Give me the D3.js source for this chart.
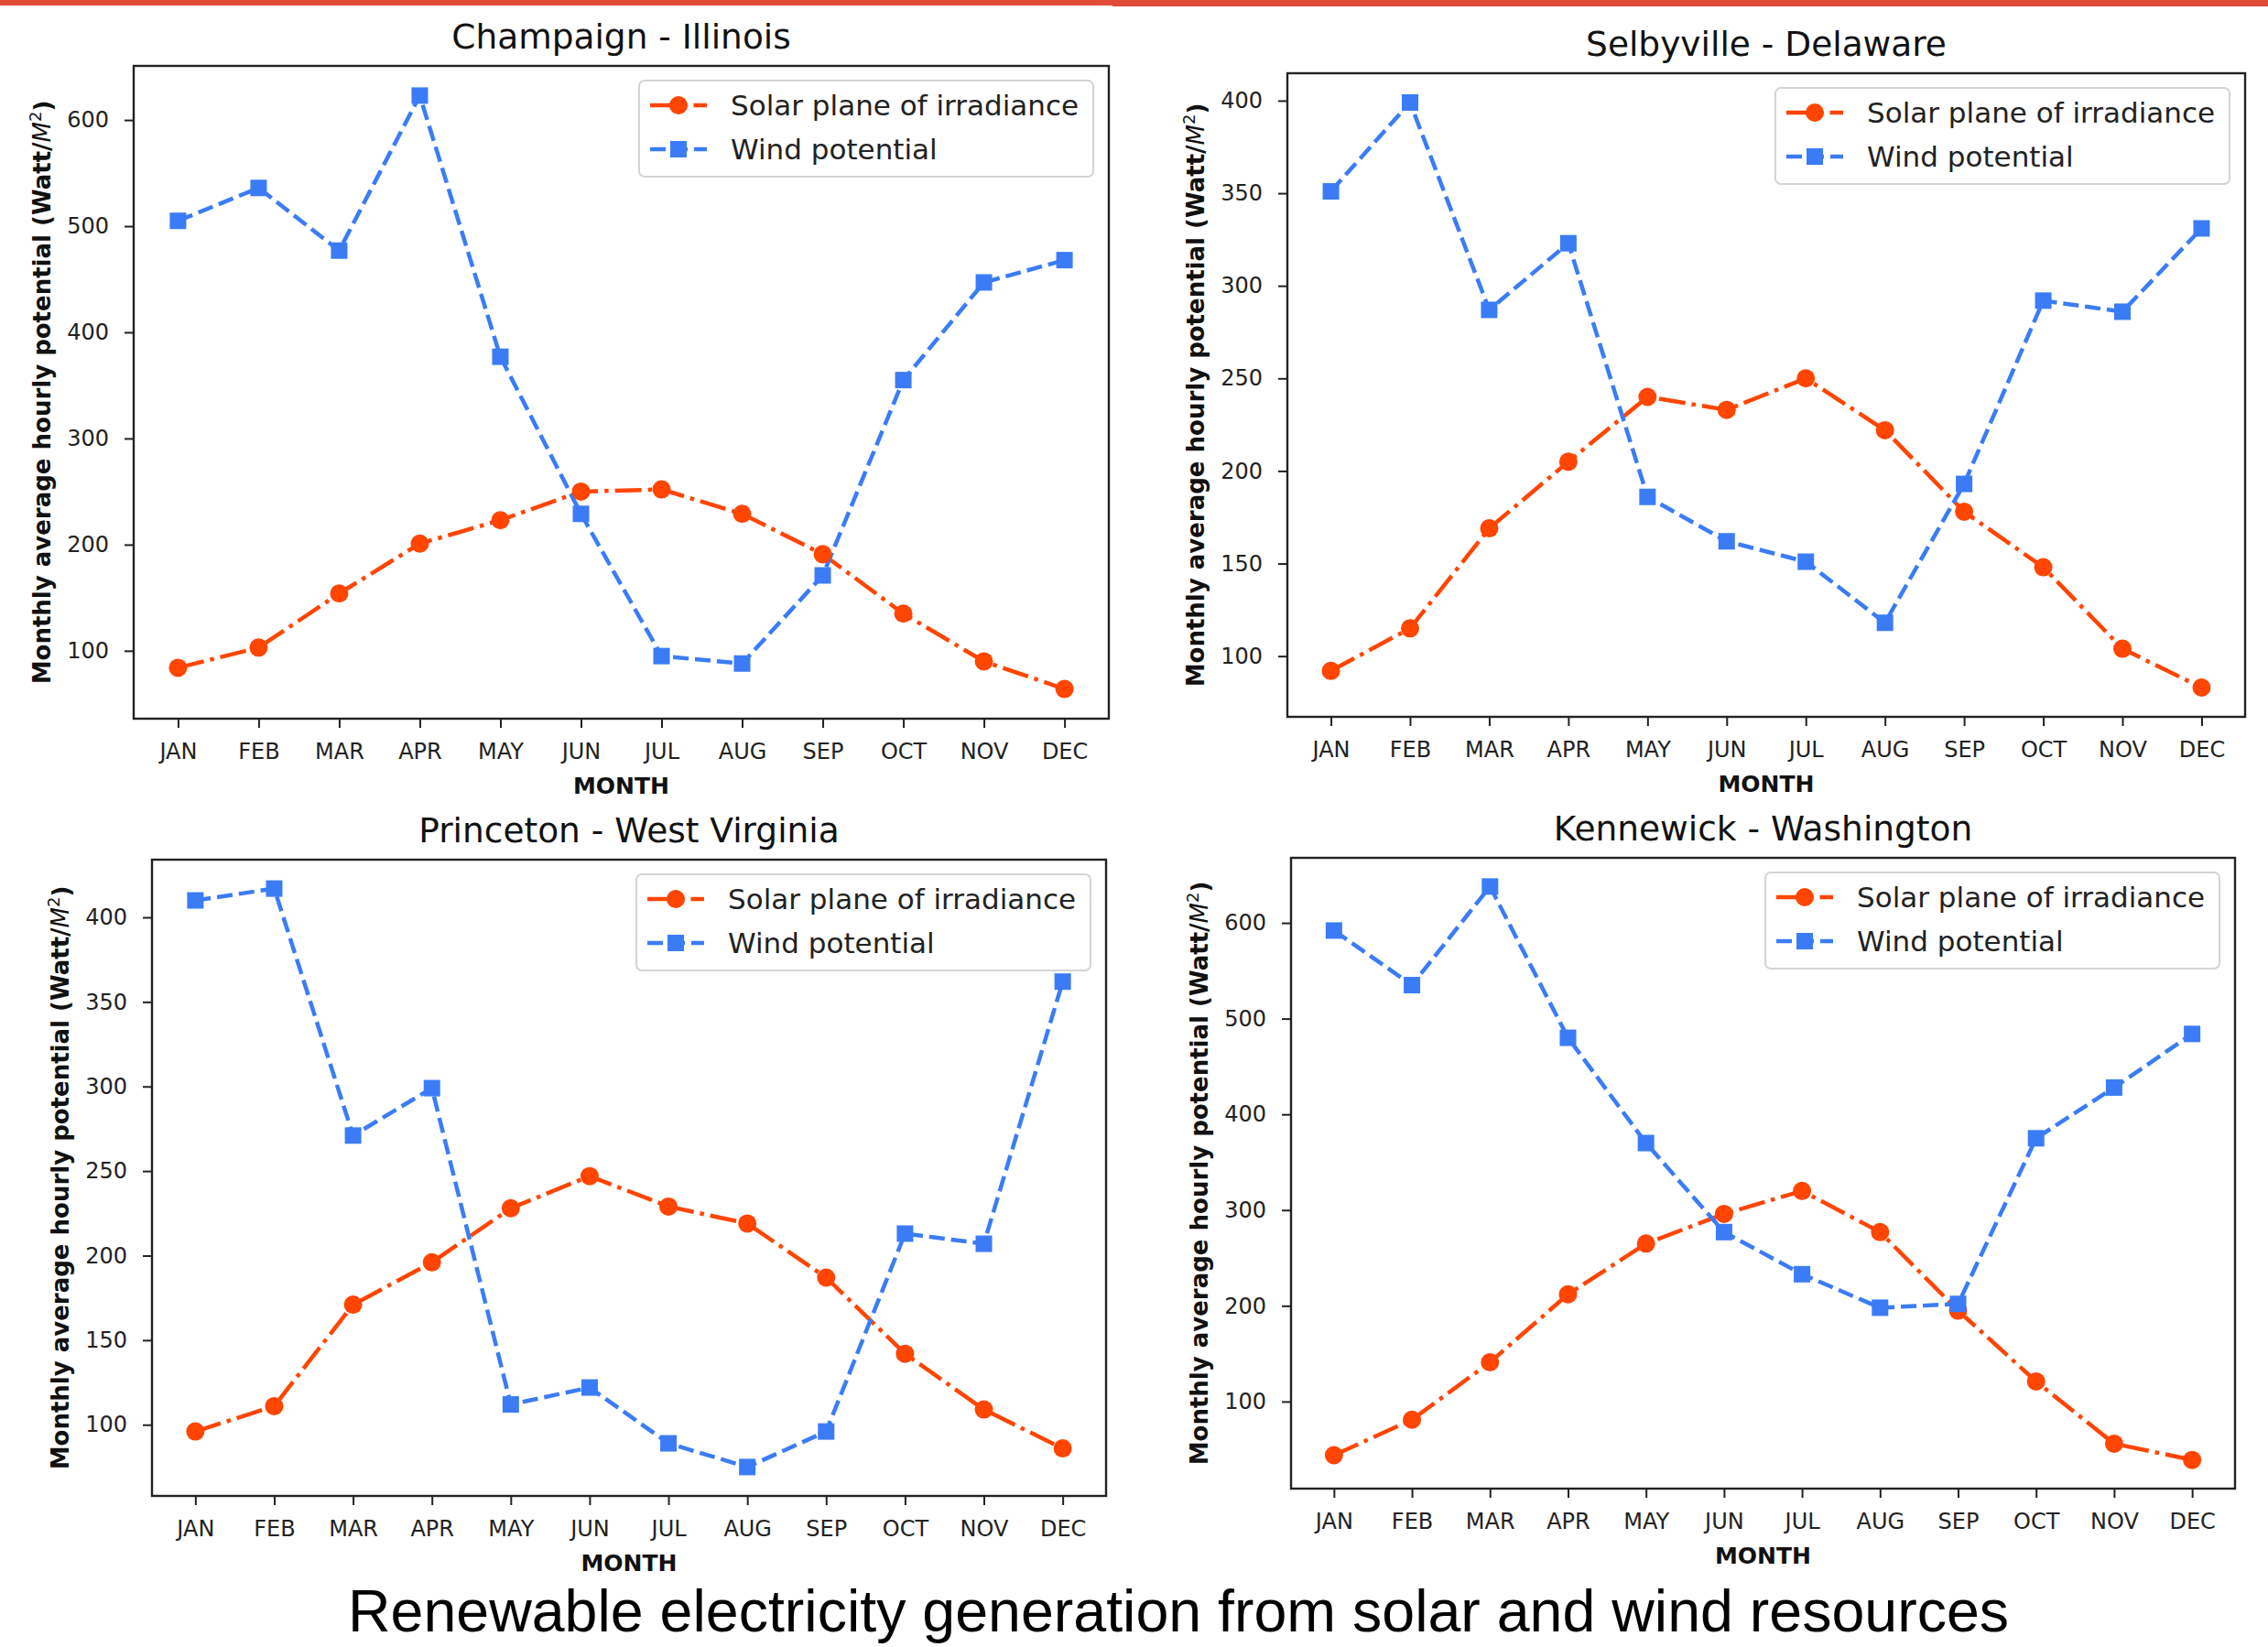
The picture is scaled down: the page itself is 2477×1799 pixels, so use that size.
<!DOCTYPE html>
<html>
<head>
<meta charset="utf-8">
<script src="https://cdn.jsdelivr.net/npm/d3@7"></script>
<style>
  body { margin: 0; background: #fff; }
</style>
</head>
<body>
<div id="chart"></div>
<script>
// Data
const months = ['JAN', 'FEB', 'MAR', 'APR', 'MAY', 'JUN', 'JUL', 'AUG', 'SEP', 'OCT', 'NOV', 'DEC'];
const cityTitles = ['Champaign - Illinois', 'Selbyville - Delaware', 'Princeton - West Virginia', 'Kennewick - Washington'];
const seriesNames = ['Solar plane of irradiance', 'Wind potential'];

const champaignSolar = [84, 103, 154, 201, 223, 250, 252, 229, 191, 135, 90, 64];
const champaignWind = [505, 536, 477, 623, 377, 229, 95, 88, 171, 355, 447, 468];
const selbyvilleSolar = [92, 115, 169, 205, 240, 233, 250, 222, 178, 148, 104, 83];
const selbyvilleWind = [351, 399, 287, 323, 186, 162, 151, 118, 193, 292, 286, 331];
const princetonSolar = [96, 111, 171, 196, 228, 247, 229, 219, 187, 142, 109, 86];
const princetonWind = [410, 417, 271, 299, 112, 122, 89, 75, 96, 213, 207, 362];
const kennewickSolar = [44, 81, 141, 212, 265, 296, 320, 277, 195, 121, 56, 39];
const kennewickWind = [592, 535, 638, 480, 370, 277, 233, 198, 202, 375, 428, 484];

const ticks100to600 = [100, 200, 300, 400, 500, 600];
const ticks100to400 = [100, 150, 200, 250, 300, 350, 400];

const mainTitle = 'Renewable electricity generation from solar and wind resources';

// Layout of each panel (plot frame in pixels)
const panels = [
    { title: cityTitles[0], solar: champaignSolar, wind: champaignWind, ticks: ticks100to600, left: 146, top: 72, right: 1211, bottom: 785 },
    { title: cityTitles[1], solar: selbyvilleSolar, wind: selbyvilleWind, ticks: ticks100to400, left: 1406, top: 80, right: 2452, bottom: 783 },
    { title: cityTitles[2], solar: princetonSolar, wind: princetonWind, ticks: ticks100to400, left: 166, top: 939, right: 1208, bottom: 1634 },
    { title: cityTitles[3], solar: kennewickSolar, wind: kennewickWind, ticks: ticks100to600, left: 1410, top: 937, right: 2441, bottom: 1626 }
];

const width = 2477;
const height = 1799;
const solarColor = '#ff4500';
const windColor = '#3b7cf6';
const lw = 4.5;
const font = 'DejaVu Sans';
const dotR = 10;
const sq = 18;

const svg = d3.select('#chart')
    .append('svg')
    .attr('width', width)
    .attr('height', height);

svg.append('rect').attr('width', width).attr('height', height).attr('fill', '#fff');

// Red strip along the top edge
svg.append('rect').attr('x', 0).attr('y', 0).attr('width', 1215).attr('height', 6).attr('fill', '#e04b38');
svg.append('rect').attr('x', 1215).attr('y', 0).attr('width', width - 1215).attr('height', 7).attr('fill', '#e04b38');

panels.forEach(p => {
    const g = svg.append('g');

    const x = d3.scalePoint()
        .domain(months)
        .range([p.left, p.right])
        .padding(0.55);

    const all = p.solar.concat(p.wind);
    const lo = d3.min(all);
    const hi = d3.max(all);
    const m = (hi - lo) * 0.05;
    const y = d3.scaleLinear()
        .domain([lo - m, hi + m])
        .range([p.bottom, p.top]);

    // Axes
    const xAxis = g.append('g')
        .attr('transform', `translate(0,${p.bottom})`)
        .call(d3.axisBottom(x).tickSize(10).tickSizeOuter(0).tickPadding(17));
    const yAxis = g.append('g')
        .attr('transform', `translate(${p.left},0)`)
        .call(d3.axisLeft(y).tickValues(p.ticks).tickSize(10).tickSizeOuter(0).tickPadding(17));

    [xAxis, yAxis].forEach(a => {
        a.select('.domain').remove();
        a.selectAll('line').attr('stroke', '#222').attr('stroke-width', 2);
        a.selectAll('text')
            .attr('fill', '#222')
            .style('font-family', font)
            .style('font-size', '24px');
    });

    // Frame
    g.append('rect')
        .attr('x', p.left)
        .attr('y', p.top)
        .attr('width', p.right - p.left)
        .attr('height', p.bottom - p.top)
        .attr('fill', 'none')
        .attr('stroke', '#222')
        .attr('stroke-width', 2.4);

    // Title
    g.append('text')
        .attr('x', (p.left + p.right) / 2)
        .attr('y', p.top - 19)
        .attr('text-anchor', 'middle')
        .style('font-family', font)
        .style('font-size', '37.5px')
        .attr('fill', '#111')
        .text(p.title);

    // Axis labels
    g.append('text')
        .attr('x', (p.left + p.right) / 2)
        .attr('y', p.bottom + 82)
        .attr('text-anchor', 'middle')
        .style('font-family', font)
        .style('font-size', '25px')
        .style('font-weight', 'bold')
        .attr('fill', '#111')
        .text('MONTH');

    const yl = g.append('text')
        .attr('transform', `translate(${p.left - 100},${(p.top + p.bottom) / 2}) rotate(-90)`)
        .attr('text-anchor', 'middle')
        .attr('dy', '0.35em')
        .style('font-family', font)
        .style('font-size', '26px')
        .style('font-weight', 'bold')
        .attr('fill', '#111');
    yl.append('tspan').text('Monthly average hourly potential (Watt/');
    yl.append('tspan').style('font-style', 'italic').style('font-weight', 'normal').text('M');
    yl.append('tspan').style('font-weight', 'normal').style('font-size', '18px').attr('dy', '-0.55em').text('2');
    yl.append('tspan').attr('dy', '0.4em').text(')');

    // Lines
    const line = d3.line()
        .x((d, i) => x(months[i]))
        .y(d => y(d));

    g.append('path')
        .datum(p.solar)
        .attr('d', line)
        .attr('fill', 'none')
        .attr('stroke', solarColor)
        .attr('stroke-width', lw)
        .attr('stroke-dasharray', '29,7,4.5,7');

    g.append('path')
        .datum(p.wind)
        .attr('d', line)
        .attr('fill', 'none')
        .attr('stroke', windColor)
        .attr('stroke-width', lw)
        .attr('stroke-dasharray', '17,7');

    g.selectAll('.solar-pt')
        .data(p.solar)
        .enter()
        .append('circle')
        .attr('cx', (d, i) => x(months[i]))
        .attr('cy', d => y(d))
        .attr('r', dotR)
        .attr('fill', solarColor);

    g.selectAll('.wind-pt')
        .data(p.wind)
        .enter()
        .append('rect')
        .attr('x', (d, i) => x(months[i]) - sq / 2)
        .attr('y', d => y(d) - sq / 2)
        .attr('width', sq)
        .attr('height', sq)
        .attr('fill', windColor);

    // Legend
    const lgW = 496;
    const lgH = 105;
    const lg = g.append('g')
        .attr('transform', `translate(${p.right - 17 - lgW},${p.top + 16})`);
    lg.append('rect')
        .attr('width', lgW)
        .attr('height', lgH)
        .attr('rx', 6)
        .attr('fill', '#fff')
        .attr('fill-opacity', 0.8)
        .attr('stroke', '#d4d4d4')
        .attr('stroke-width', 2);

    const rows = [
        { name: seriesNames[0], color: solarColor, dash: '29,7,4.5,7', shape: 'circle' },
        { name: seriesNames[1], color: windColor, dash: '17,7', shape: 'square' }
    ];
    rows.forEach((r, i) => {
        const cy = 27 + i * 48;
        lg.append('line')
            .attr('x1', 12).attr('x2', 74)
            .attr('y1', cy).attr('y2', cy)
            .attr('stroke', r.color)
            .attr('stroke-width', lw)
            .attr('stroke-dasharray', r.dash);
        if (r.shape === 'circle') {
            lg.append('circle').attr('cx', 43).attr('cy', cy).attr('r', dotR).attr('fill', r.color);
        } else {
            lg.append('rect').attr('x', 43 - sq / 2).attr('y', cy - sq / 2).attr('width', sq).attr('height', sq).attr('fill', r.color);
        }
        lg.append('text')
            .attr('x', 100)
            .attr('y', cy)
            .attr('dy', '0.35em')
            .style('font-family', font)
            .style('font-size', '31px')
            .attr('fill', '#222')
            .text(r.name);
    });
});

// Figure caption
svg.append('text')
    .attr('x', 1287)
    .attr('y', 1782)
    .attr('text-anchor', 'middle')
    .style('font-family', 'Liberation Sans, Arial, sans-serif')
    .style('font-size', '64.5px')
    .attr('fill', '#000')
    .text(mainTitle);
</script>
</body>
</html>
